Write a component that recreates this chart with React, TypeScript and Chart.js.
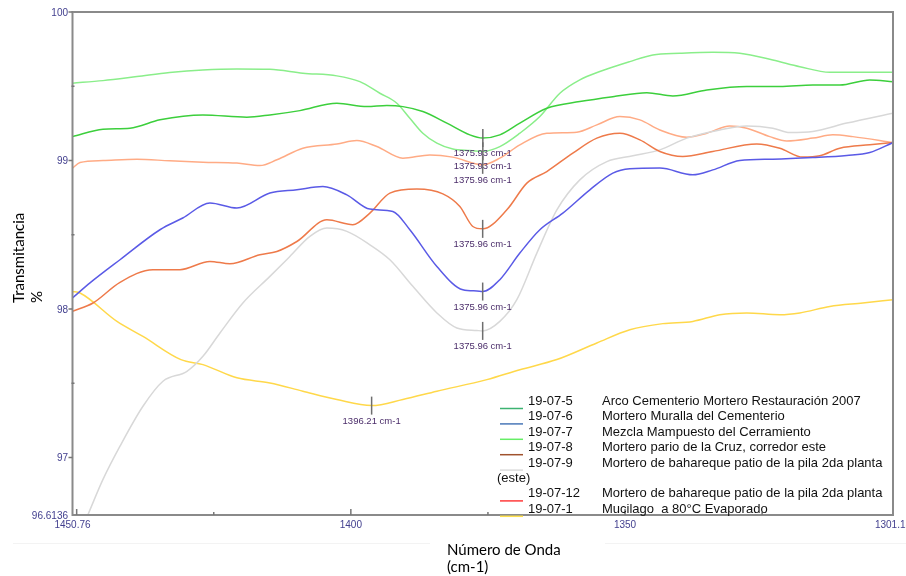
import { useEffect, useRef } from 'react';
import { Chart, registerables } from 'chart.js';

Chart.register(...registerables);

// ---- FTIR spectra (wavenumber in cm-1, transmittance in %) ----
const wn_19_07_5 = [1450.76, 1445.2, 1440.28, 1434.81, 1426.97, 1418.96, 1414.76, 1409.29, 1402.55, 1397.08, 1393.43, 1390.51, 1386.87, 1382.49, 1378.3, 1375.93, 1372.83, 1369.18, 1364.26, 1358.24, 1352.22, 1346.02, 1341.28, 1335.08, 1327.79, 1321.77, 1315.75, 1310.83, 1305.36, 1301.13];
const t_19_07_5 = [99.161, 99.211, 99.218, 99.274, 99.307, 99.292, 99.307, 99.336, 99.386, 99.363, 99.37, 99.363, 99.33, 99.252, 99.173, 99.152, 99.173, 99.252, 99.352, 99.397, 99.43, 99.457, 99.435, 99.475, 99.498, 99.498, 99.509, 99.509, 99.543, 99.531];

const wn_19_07_6 = [1450.76, 1447.57, 1442.1, 1434.81, 1430.65, 1425.7, 1420.78, 1414.76, 1409.84, 1405.1, 1400.73, 1396.53, 1392.34, 1389.24, 1384.31, 1379.57, 1377.02, 1375.96, 1372.83, 1369.18, 1365.53, 1361.34, 1356.41, 1352.22, 1349.12, 1343.65, 1337.63, 1333.99, 1329.07, 1323.05, 1315.75, 1309.56, 1305.36, 1301.13];
const t_19_07_6 = [98.075, 98.176, 98.332, 98.534, 98.613, 98.714, 98.68, 98.781, 98.803, 98.825, 98.769, 98.673, 98.657, 98.534, 98.287, 98.13, 98.122, 98.118, 98.198, 98.377, 98.534, 98.646, 98.803, 98.915, 98.944, 98.949, 98.904, 98.937, 99.0, 99.009, 99.02, 99.034, 99.054, 99.121];

const wn_19_07_7 = [1450.76, 1445.2, 1439.0, 1433.05, 1426.97, 1420.78, 1414.76, 1408.75, 1402.55, 1398.36, 1394.71, 1391.61, 1389.24, 1386.87, 1384.31, 1381.4, 1378.3, 1375.93, 1372.83, 1369.18, 1365.53, 1361.88, 1358.24, 1354.59, 1349.12, 1344.93, 1340.0, 1333.99, 1329.07, 1323.05, 1318.12, 1312.65, 1306.64, 1301.13];
const t_19_07_7 = [99.521, 99.538, 99.565, 99.592, 99.61, 99.617, 99.615, 99.588, 99.57, 99.531, 99.453, 99.386, 99.285, 99.184, 99.117, 99.077, 99.067, 99.062, 99.094, 99.184, 99.296, 99.453, 99.543, 99.599, 99.666, 99.711, 99.722, 99.729, 99.722, 99.677, 99.632, 99.594, 99.594, 99.594];

const wn_19_07_8 = [1450.76, 1447.02, 1442.1, 1436.09, 1431.16, 1425.7, 1422.05, 1416.59, 1413.49, 1409.84, 1404.37, 1399.64, 1396.53, 1392.88, 1387.96, 1383.22, 1380.12, 1377.75, 1375.96, 1371.55, 1367.9, 1364.26, 1359.52, 1355.14, 1350.94, 1347.29, 1343.65, 1339.46, 1333.99, 1325.97, 1321.77, 1317.58, 1314.48, 1310.83, 1305.36, 1301.13];
const t_19_07_8 = [97.985, 98.041, 98.18, 98.265, 98.265, 98.321, 98.305, 98.366, 98.388, 98.455, 98.601, 98.568, 98.646, 98.781, 98.808, 98.776, 98.691, 98.556, 98.54, 98.668, 98.848, 98.926, 99.05, 99.151, 99.184, 99.139, 99.061, 99.027, 99.061, 99.112, 99.083, 99.023, 99.032, 99.083, 99.106, 99.121];

const wn_19_07_9 = [1450.76, 1447.93, 1445.2, 1442.1, 1437.91, 1434.26, 1429.89, 1426.97, 1423.87, 1419.69, 1414.76, 1411.12, 1407.47, 1404.37, 1400.73, 1396.53, 1392.88, 1388.69, 1384.31, 1380.67, 1377.02, 1375.96, 1372.83, 1369.73, 1366.08, 1362.43, 1358.24, 1353.31, 1348.57, 1343.65, 1338.73, 1332.71, 1327.79, 1323.05, 1319.95, 1315.75, 1309.56, 1301.13];
const t_19_07_9 = [96.375, 96.617, 96.853, 97.077, 97.346, 97.514, 97.581, 97.682, 97.839, 98.041, 98.22, 98.354, 98.489, 98.545, 98.523, 98.433, 98.332, 98.153, 97.974, 97.873, 97.856, 97.853, 97.917, 98.063, 98.377, 98.668, 98.87, 98.993, 99.032, 99.072, 99.151, 99.206, 99.233, 99.218, 99.188, 99.195, 99.252, 99.319];

const wn_19_07_12 = [1450.76, 1449.39, 1445.2, 1439.0, 1433.05, 1426.97, 1420.78, 1416.59, 1413.49, 1408.75, 1402.55, 1398.91, 1395.25, 1390.51, 1385.59, 1381.4, 1375.96, 1372.83, 1369.18, 1364.26, 1358.79, 1355.14, 1350.94, 1347.29, 1343.65, 1338.73, 1335.08, 1330.89, 1327.79, 1323.6, 1320.5, 1315.75, 1312.11, 1308.46, 1301.13];
const t_19_07_12 = [98.949, 98.987, 99.0, 99.009, 98.998, 98.989, 98.983, 98.966, 99.005, 99.083, 99.112, 99.135, 99.094, 99.016, 99.038, 99.023, 98.971, 99.016, 99.106, 99.184, 99.191, 99.24, 99.296, 99.274, 99.206, 99.157, 99.184, 99.233, 99.218, 99.161, 99.132, 99.151, 99.173, 99.161, 99.121];

const wn_19_07_1 = [1450.76, 1449.39, 1442.65, 1437.91, 1430.99, 1426.97, 1420.78, 1414.76, 1408.75, 1402.55, 1396.21, 1390.51, 1384.31, 1375.2, 1369.18, 1362.43, 1355.14, 1349.12, 1343.1, 1337.63, 1332.71, 1327.79, 1321.77, 1318.12, 1312.65, 1306.64, 1301.13];
const t_19_07_1 = [98.119, 98.108, 97.917, 97.816, 97.66, 97.626, 97.537, 97.503, 97.447, 97.391, 97.35, 97.391, 97.447, 97.525, 97.592, 97.66, 97.772, 97.861, 97.902, 97.917, 97.962, 97.974, 97.962, 97.974, 98.018, 98.041, 98.063];

// ---- Series descriptions ----
const sampleCodes = ['19-07-5', '19-07-6', '19-07-7', '19-07-8', '19-07-9', '19-07-12', '19-07-1'];
const sampleNames = [
  'Arco Cementerio Mortero Restauración 2007',
  'Mortero Muralla del Cementerio',
  'Mezcla Mampuesto del Cerramiento',
  'Mortero pario de la Cruz, corredor este',
  'Mortero de bahareque patio de la pila 2da planta (este)',
  'Mortero de bahareque patio de la pila 2da planta',
  'Mucilago  a 80°C Evaporado',
];
const sampleWavenumbers = [wn_19_07_5, wn_19_07_6, wn_19_07_7, wn_19_07_8, wn_19_07_9, wn_19_07_12, wn_19_07_1];
const sampleTransmittance = [t_19_07_5, t_19_07_6, t_19_07_7, t_19_07_8, t_19_07_9, t_19_07_12, t_19_07_1];
const lineColors = ['#3ccf3c', '#5a5ae6', '#8aee8a', '#ee7a4a', '#d8d8d8', '#ffab85', '#ffd84a'];
const legendColors = ['#3cb371', '#4a78b8', '#66ee66', '#a0522d', '#dcdcdc', '#ff3b3b', '#ffe14d'];

// Marked band minima, one per series (same order as sampleCodes)
const peakWavenumbers = [1375.93, 1375.96, 1375.93, 1375.96, 1375.96, 1375.96, 1396.21];

// ---- Axis ----
const xMin = 1301.13;
const xMax = 1450.76;
const yMin = 96.6136;
const yMax = 100;
const yLabelValues = [96.6136, 97, 98, 99, 100];
const yLabelTexts = ['96.6136', '97', '98', '99', '100'];
const yMajorTicks = [97, 98, 99, 100];
const yMinorTicks = [97.5, 98.5, 99.5];
const xLabelValues = [1450.76, 1400, 1350, 1301.13];
const xLabelTexts = ['1450.76', '1400', '1350', '1301.13'];
const xMajorTicks = [1450, 1400, 1350];
const xMinorTicks = [1425, 1375, 1325];

const SANS = '"Liberation Sans", Arial, sans-serif';
const TITLE_FONT = '15px Lato, "Open Sans", sans-serif';

const spectrumDecor = {
  id: 'spectrumDecor',
  afterDatasetsDraw(chart: any) {
    const { ctx, scales } = chart;
    const x = scales.x;
    const y = scales.y;
    ctx.save();
    // band markers
    chart.data.datasets.forEach((ds: any, i: number) => {
      const wn = peakWavenumbers[i];
      const pt = ds.data.find((p: any) => p.x === wn);
      if (!pt) return;
      const px = x.getPixelForValue(pt.x);
      const py = y.getPixelForValue(pt.y);
      ctx.strokeStyle = '#6e6e6e';
      ctx.lineWidth = 1.5;
      ctx.beginPath();
      ctx.moveTo(px, py - 9);
      ctx.lineTo(px, py + 9);
      ctx.stroke();
      ctx.fillStyle = '#4b2d6a';
      ctx.font = '9.5px ' + SANS;
      ctx.textAlign = 'center';
      ctx.textBaseline = 'middle';
      ctx.fillText(wn.toFixed(2) + ' cm-1', px, py + 15.5);
    });
    ctx.restore();
  },
  afterDraw(chart: any) {
    const { ctx, chartArea: a, scales } = chart;
    const x = scales.x;
    const y = scales.y;
    ctx.save();

    // faint rule under the plot
    ctx.strokeStyle = '#f3f3f3';
    ctx.lineWidth = 1;
    ctx.beginPath();
    ctx.moveTo(13, 543.5);
    ctx.lineTo(430, 543.5);
    ctx.moveTo(605, 543.5);
    ctx.lineTo(906, 543.5);
    ctx.stroke();

    // frame
    ctx.strokeStyle = '#8a8a8a';
    ctx.lineWidth = 2;
    ctx.strokeRect(a.left, a.top, a.right - a.left, a.bottom - a.top);

    // ticks
    ctx.strokeStyle = '#777777';
    ctx.lineWidth = 1.5;
    ctx.beginPath();
    yMajorTicks.forEach((v) => {
      const py = y.getPixelForValue(v);
      ctx.moveTo(a.left - 4, py);
      ctx.lineTo(a.left, py);
    });
    yMinorTicks.forEach((v) => {
      const py = y.getPixelForValue(v);
      ctx.moveTo(a.left - 1, py);
      ctx.lineTo(a.left + 2, py);
    });
    xMajorTicks.forEach((v) => {
      const px = x.getPixelForValue(v);
      ctx.moveTo(px, a.bottom);
      ctx.lineTo(px, a.bottom - 6);
    });
    xMinorTicks.forEach((v) => {
      const px = x.getPixelForValue(v);
      ctx.moveTo(px, a.bottom);
      ctx.lineTo(px, a.bottom - 3);
    });
    ctx.stroke();

    // tick labels
    ctx.fillStyle = '#43408f';
    ctx.font = '10px ' + SANS;
    ctx.textAlign = 'right';
    ctx.textBaseline = 'middle';
    yLabelValues.forEach((v, i) => {
      ctx.fillText(yLabelTexts[i], 68, y.getPixelForValue(v) + 1);
    });
    ctx.textAlign = 'center';
    xLabelValues.forEach((v, i) => {
      ctx.fillText(xLabelTexts[i], x.getPixelForValue(v), 525);
    });

    // axis titles
    ctx.fillStyle = '#000000';
    ctx.font = TITLE_FONT;
    ctx.textAlign = 'left';
    ctx.textBaseline = 'alphabetic';
    ctx.fillText('Número de Onda', 447, 555);
    ctx.fillText('(cm-1)', 447, 572);
    ctx.save();
    ctx.translate(24, 303);
    ctx.rotate(-Math.PI / 2);
    ctx.fillText('Transmitancia', 0, 0);
    ctx.fillText('%', 0, 18);
    ctx.restore();

    // legend
    ctx.font = '13px ' + SANS;
    ctx.textBaseline = 'alphabetic';
    const codeX = 528;
    const nameX = 602;
    const wrapX = 497;
    const maxRight = a.right;
    let row = 0;
    const baseline = (r: number) => 405 + 15.4 * r;
    sampleCodes.forEach((code, i) => {
      const by = baseline(row);
      ctx.strokeStyle = legendColors[i];
      ctx.lineWidth = 1.5;
      ctx.beginPath();
      ctx.moveTo(500, by + 3.5);
      ctx.lineTo(523, by + 3.5);
      ctx.stroke();
      ctx.fillStyle = '#111111';
      ctx.fillText(code, codeX, by);
      // simple word wrap of the description
      const words = sampleNames[i].split(' ');
      let line = '';
      let startX = nameX;
      words.forEach((w) => {
        const test = line.length ? line + ' ' + w : w;
        if (line.length && startX + ctx.measureText(test).width > maxRight) {
          ctx.fillText(line, startX, baseline(row));
          row += 1;
          startX = wrapX;
          line = w;
        } else {
          line = test;
        }
      });
      ctx.fillText(line, startX, baseline(row));
      row += 1;
    });

    ctx.restore();
  },
};

export default function App() {
  const canvasRef = useRef<HTMLCanvasElement | null>(null);

  useEffect(() => {
    const canvas = canvasRef.current;
    if (!canvas) return;
    const datasets = sampleCodes.map((code, i) => ({
      label: code,
      data: sampleWavenumbers[i].map((w, k) => ({ x: w, y: sampleTransmittance[i][k] })),
      borderColor: lineColors[i],
      backgroundColor: lineColors[i],
      borderWidth: 1.5,
      pointRadius: 0,
      fill: false,
      cubicInterpolationMode: 'monotone' as const,
    }));
    const chart = new Chart(canvas, {
      type: 'line',
      data: { datasets },
      options: {
        animation: false,
        responsive: false,
        devicePixelRatio: 1,
        layout: { padding: { left: 72.5, right: 13, top: 12, bottom: 61 } },
        scales: {
          x: { type: 'linear', reverse: true, min: xMin, max: xMax, display: false },
          y: { type: 'linear', min: yMin, max: yMax, display: false },
        },
        plugins: {
          legend: { display: false },
          tooltip: { enabled: false },
        },
      },
      plugins: [spectrumDecor],
    });
    return () => chart.destroy();
  }, []);

  return (
    <div style={{ position: 'absolute', left: 0, top: 0, width: 906, height: 576, background: '#ffffff' }}>
      <canvas ref={canvasRef} width={906} height={576} style={{ display: 'block', width: 906, height: 576 }} />
    </div>
  );
}
